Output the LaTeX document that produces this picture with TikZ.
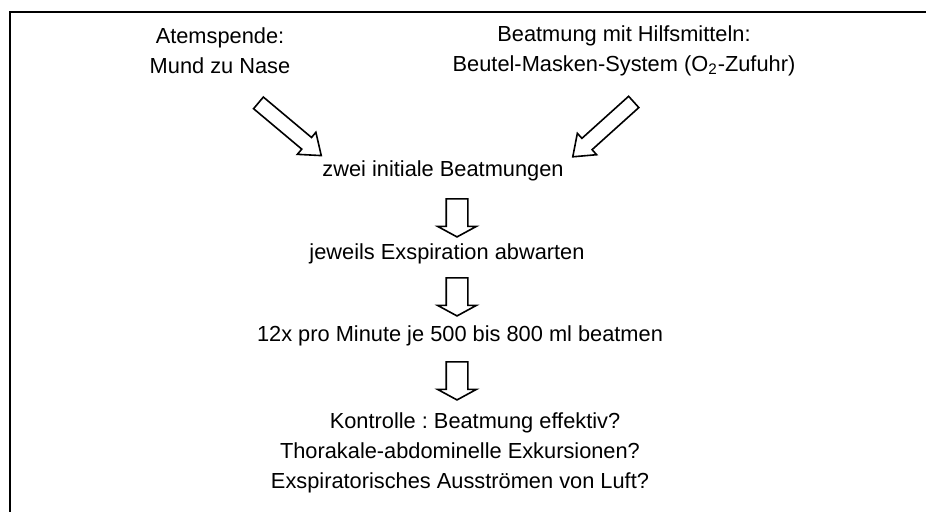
\documentclass[tikz,border=0pt]{standalone}
\usepackage{fontspec}
\setmainfont{Liberation Sans}
\usetikzlibrary{shapes.arrows}
\begin{document}
\begin{tikzpicture}[x=0.5pt, y=0.5pt,
    eintrag/.style={font=\fontsize{10.9}{15}\selectfont\frenchspacing, align=center, inner sep=0pt},
    pfeil/.style={single arrow, draw, line width=0.8pt, inner xsep=0pt,
                  text height=0pt, text depth=0pt, single arrow head indent=0pt},
    gerade/.style={pfeil, inner ysep=5pt, minimum height=19pt,
                   single arrow head extend=4.25pt, single arrow tip angle=123, rotate=-90},
    schraeg/.style={pfeil, inner ysep=3.4pt, minimum height=41pt,
                    single arrow head extend=3.4pt, single arrow tip angle=74}
]
    \useasboundingbox (0,0) rectangle (926,512);
    % Rahmen
    \draw[line width=0.8pt] (10,0) -- (10,500) -- (926,500);

    \node[eintrag] (atem) at (220,461) {Atemspende:\\Mund zu Nase};
    \node[eintrag] (hilfe) at (624,461) {Beatmung mit Hilfsmitteln:\\Beutel-Masken-System (O\textsubscript{2}-Zufuhr)};
    \node[eintrag] (initial) at (443,341) {zwei initiale Beatmungen};
    \node[eintrag] (abwarten) at (447,258) {jeweils Exspiration abwarten};
    \node[eintrag] (beatmen) at (460,176) {12x pro Minute je 500 bis 800 ml beatmen};
    \node[eintrag] (kontrolle) at (460,59) {\hspace*{15pt}Kontrolle : Beatmung effektiv?\\
        Thorakale-abdominelle Exkursionen?\\Exspiratorisches Ausströmen von Luft?};

    % Pfeile
    \node[schraeg, rotate=-40] (p1) at (286,386) {};
    \node[schraeg, rotate=-138] (p2) at (607,386) {};
    \node[gerade] (p3) at (457,297) {};
    \node[gerade] (p4) at (457,218) {};
    \node[gerade] (p5) at (457,134) {};
\end{tikzpicture}
\end{document}
